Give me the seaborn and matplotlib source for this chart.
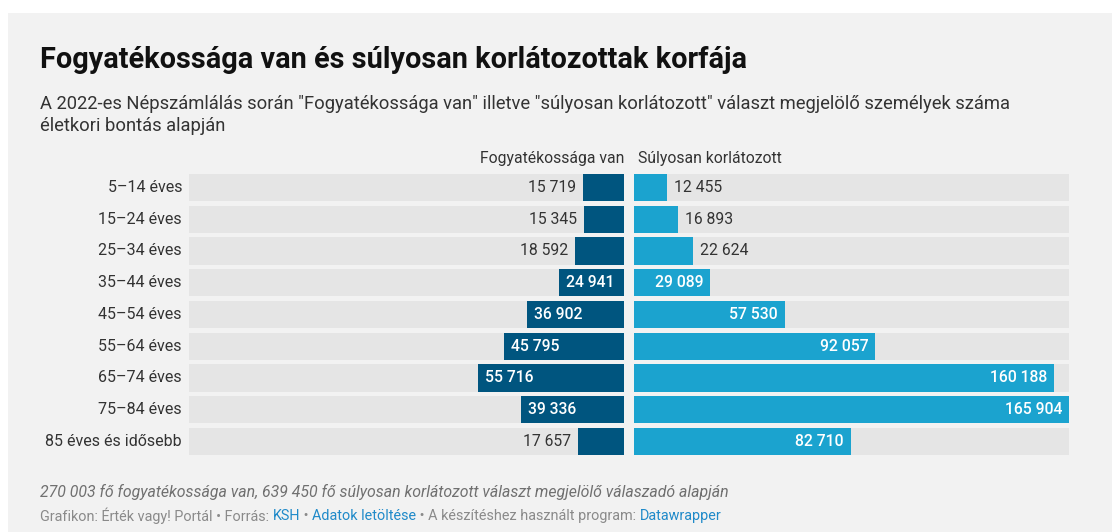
import matplotlib
matplotlib.use("Agg")
import matplotlib.pyplot as plt
import seaborn as sns
import pandas as pd
from matplotlib.patches import Rectangle

# data
age_groups = [
    "5–14 éves", "15–24 éves", "25–34 éves", "35–44 éves", "45–54 éves",
    "55–64 éves", "65–74 éves", "75–84 éves", "85 éves és idősebb",
]
fogyatekos = [15719, 15345, 18592, 24941, 36902, 45795, 55716, 39336, 17657]
korlatozott = [12455, 16893, 22624, 29089, 57530, 92057, 160188, 165904, 82710]

title = "Fogyatékossága van és súlyosan korlátozottak korfája"
subtitle = ('A 2022-es Népszámlálás során "Fogyatékossága van" illetve "súlyosan korlátozott" '
            'választ megjelölő személyek száma\néletkori bontás alapján')
note = "270 003 fő fogyatékossága van, 639 450 fő súlyosan korlátozott választ megjelölő válaszadó alapján"

DARK = "#00557f"
LIGHT = "#1ba3cf"
TRACK = "#e5e5e5"
BG = "#f2f2f2"
TXT = "#333333"

sns.set_theme(style="white")
plt.rcParams["font.family"] = ["Roboto", "DejaVu Sans"]

W, H = 1112, 532
fig = plt.figure(figsize=(W / 100, H / 100), dpi=100)
fig.patch.set_facecolor("white")
fig.add_artist(Rectangle((8 / W, 0), 1 - 8 / W, 1 - 13 / H, transform=fig.transFigure,
                         facecolor=BG, edgecolor="none", zorder=-10))


def fx(px):
    return px / W


def fy(py):
    return 1 - py / H


vmax = max(max(fogyatekos), max(korlatozott))
row_top, row_h = 171.6, 31.75
ax_bottom = fy(row_top + 9 * row_h)
ax_height = 9 * row_h / H

axL = fig.add_axes([fx(189), ax_bottom, fx(435), ax_height])
axR = fig.add_axes([fx(634), ax_bottom, fx(435), ax_height])

df = pd.DataFrame({"kor": age_groups, "fogy": fogyatekos, "korl": korlatozott,
                   "track": [vmax] * len(age_groups)})

for ax, col, color in [(axL, "fogy", DARK), (axR, "korl", LIGHT)]:
    ax.set_facecolor("none")
    sns.barplot(data=df, x="track", y="kor", color=TRACK, width=0.86, ax=ax,
                saturation=1, edgecolor="none")
    sns.barplot(data=df, x=col, y="kor", color=color, width=0.86, ax=ax,
                saturation=1, edgecolor="none")
    ax.set_xlim(0, vmax)
    ax.set_xlabel("")
    ax.set_ylabel("")
    ax.set_xticks([])
    ax.set_yticks([])
    for s in ax.spines.values():
        s.set_visible(False)

axL.set_xlim(vmax, 0)

px_per_val = 435 / vmax
pad = 7 / px_per_val
FS = 11.3


def fmt(v):
    return f"{v:,}".replace(",", " ")


for i, (a, b) in enumerate(zip(fogyatekos, korlatozott)):
    # left
    if a * px_per_val > 62:
        axL.text(a - pad, i, fmt(a), ha="left", va="center", color="white",
                 fontsize=FS, fontweight="medium")
    else:
        axL.text(a + pad, i, fmt(a), ha="right", va="center", color=TXT, fontsize=FS)
    # right
    if b * px_per_val > 62:
        axR.text(b - pad, i, fmt(b), ha="right", va="center", color="white",
                 fontsize=FS, fontweight="medium")
    else:
        axR.text(b + pad, i, fmt(b), ha="left", va="center", color=TXT, fontsize=FS)
    # row label
    fig.text(fx(182), fy(row_top + (i + 0.5) * row_h), age_groups[i], ha="right",
             va="center", color=TXT, fontsize=11.5)

# column headers
fig.text(fx(624), fy(158), "Fogyatékossága van", ha="right", va="center",
         color=TXT, fontsize=11.3)
fig.text(fx(638), fy(158), "Súlyosan korlátozott", ha="left", va="center",
         color=TXT, fontsize=11.3)

# title / subtitle
fig.text(fx(40), fy(60), title, ha="left", va="center", fontsize=20.8,
         fontweight="bold", color="#111111")
fig.text(fx(40), fy(115), subtitle, ha="left", va="center", fontsize=13.2,
         color=TXT, linespacing=1.3)

# footer
fig.text(fx(40), fy(492), note, ha="left", va="center", fontsize=11.4,
         style="italic", color="#707070")

parts = [
    ("Grafikon: Érték vagy! Portál • Forrás: ", "#8a8a8a"),
    ("KSH", "#1f8ac9"),
    (" • ", "#8a8a8a"),
    ("Adatok letöltése", "#1f8ac9"),
    (" • A készítéshez használt program: ", "#8a8a8a"),
    ("Datawrapper", "#1f8ac9"),
]
renderer = fig.canvas.get_renderer()
x = 40
for s, c in parts:
    t = fig.text(fx(x), fy(516), s, ha="left", va="center", fontsize=10.4, color=c)
    x += t.get_window_extent(renderer).width

fig.savefig("out.png", dpi=100, facecolor=fig.get_facecolor())
